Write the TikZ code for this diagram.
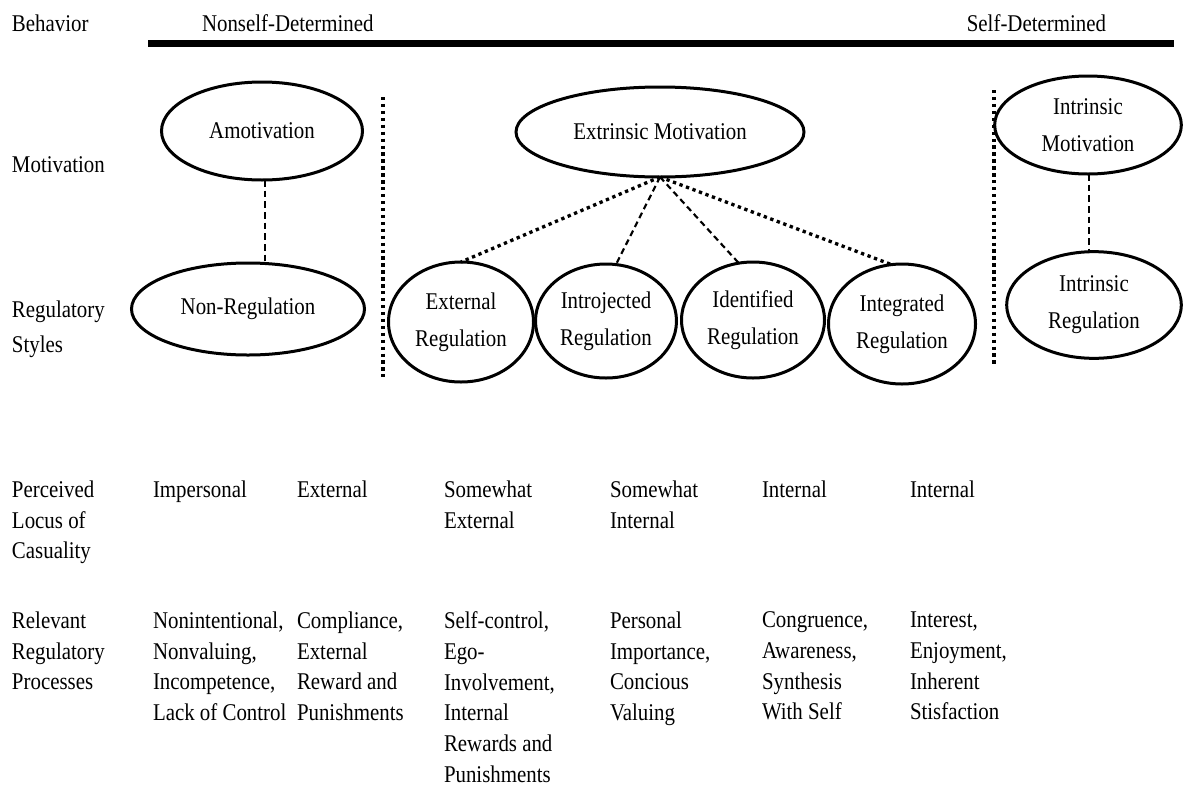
\documentclass[tikz,border=0pt]{standalone}
\usepackage{fontspec}
\setmainfont{Liberation Serif}[FakeStretch=0.87]
\usetikzlibrary{shapes.geometric}
\begin{document}
\begin{tikzpicture}[x=0.75pt,y=-0.75pt,
  every node/.style={font=\fontsize{18}{23}\selectfont, inner sep=0pt, outer sep=0pt},
  lbl/.style={anchor=north west, align=left},
  ell/.style={ellipse, draw, line width=2.25pt, align=center, inner sep=0pt,
    font=\fontsize{18}{27.75}\selectfont},
  sqdot/.style={line width=2.5pt, dash pattern=on 2.5pt off 2.7pt},
  thindash/.style={line width=1.6pt, dash pattern=on 4.5pt off 3pt},
  meddash/.style={line width=2.2pt, dash pattern=on 5pt off 3pt}]
\useasboundingbox (0,0) rectangle (1184,789);

% top
\node[anchor=base west] (beh) at (12,31.7) {Behavior};
\node[anchor=base west] (nsd) at (202,31.7) {Nonself-Determined};
\node[anchor=base east] (sd) at (1106,31.7) {Self-Determined};
\coordinate (barL) at (148,43.5);
\coordinate (barR) at (1174,43.5);
\draw[line width=5.25pt] (barL) -- (barR);

% row labels
\node[anchor=base west] (motl) at (12,172) {Motivation};
\node[lbl, font=\fontsize{18}{26.25}\selectfont] (regl) at (12,300.5) {Regulatory\\Styles};

% ellipses
\node[ell, minimum width=150.75pt, minimum height=73.5pt] (amo) at (262,131) {Amotivation};
\node[ell, minimum width=174.75pt, minimum height=69pt] (nonreg) at (248,309) {Non-Regulation};
\node[ell, minimum width=216pt, minimum height=67.5pt] (extr) at (660,132) {Extrinsic Motivation};
\node[ell, minimum width=108.75pt, minimum height=90pt] (ext) at (461,322) {External\\Regulation};
\node[ell, minimum width=105.75pt, minimum height=85.5pt] (intro) at (606,321) {Introjected\\Regulation};
\node[ell, minimum width=107.25pt, minimum height=87pt] (ident) at (753,320) {Identified\\Regulation};
\node[ell, minimum width=110.25pt, minimum height=90pt] (integ) at (902,324) {Integrated\\Regulation};
\node[ell, minimum width=140pt, minimum height=73.5pt] (intrm) at (1088,125) {Intrinsic\\Motivation};
\node[ell, minimum width=131pt, minimum height=80pt] (intrr) at (1094,305) {Intrinsic\\Regulation};

% separators
\coordinate (s1a) at (383,97);
\coordinate (s1b) at (383,377);
\coordinate (s2a) at (994,90);
\coordinate (s2b) at (994,367);
\draw[sqdot] (s1a) -- (s1b);
\draw[sqdot] (s2a) -- (s2b);

% connectors
\draw[meddash] (amo.south -| 265,0) -- (265,0 |- nonreg.north);
\draw[meddash] (1089,0 |- intrm.south) -- (1089,0 |- intrr.north);
\draw[sqdot] (extr.south) -- (ext.north);
\draw[thindash] (extr.south) -- (intro.80);
\draw[thindash] (extr.south) -- (ident.104);
\draw[sqdot] (extr.south) -- (integ.100);

% locus row
\node[lbl] (locl) at (12,481) {Perceived\\Locus of\\Casuality};
\node[lbl] (loc1) at (153,481) {Impersonal};
\node[lbl] (loc2) at (297,481) {External};
\node[lbl] (loc3) at (444,481) {Somewhat\\External};
\node[lbl] (loc4) at (610,481) {Somewhat\\Internal};
\node[lbl] (loc5) at (762,481) {Internal};
\node[lbl] (loc6) at (910,481) {Internal};

% processes row
\node[lbl] (prl) at (12,612) {Relevant\\Regulatory\\Processes};
\node[lbl] (pr1) at (153,612) {Nonintentional,\\Nonvaluing,\\Incompetence,\\Lack of Control};
\node[lbl] (pr2) at (297,612) {Compliance,\\External\\Reward and\\Punishments};
\node[lbl] (pr3) at (444,612) {Self-control,\\Ego-\\Involvement,\\Internal\\Rewards and\\Punishments};
\node[lbl] (pr4) at (610,612) {Personal\\Importance,\\Concious\\Valuing};
\node[lbl] (pr5) at (762,612) {Congruence,\\Awareness,\\Synthesis\\With Self};
\node[lbl] (pr6) at (910,612) {Interest,\\Enjoyment,\\Inherent\\Stisfaction};
\end{tikzpicture}
\end{document}
